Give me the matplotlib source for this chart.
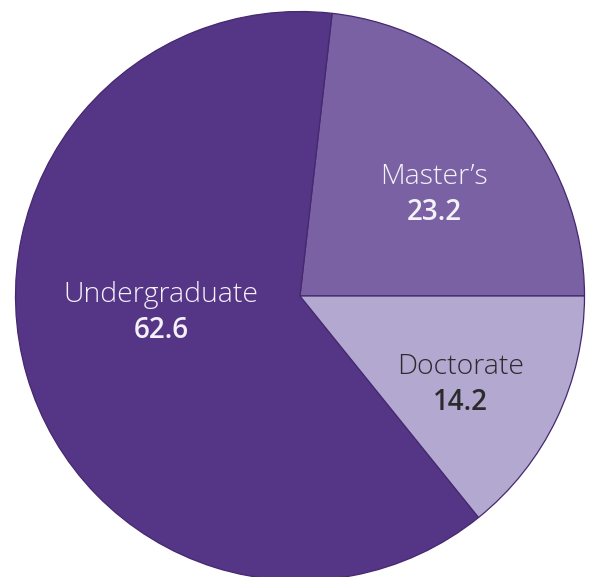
import numpy as np
import matplotlib
matplotlib.use("Agg")
import matplotlib.pyplot as plt

# data (percent), drawn counterclockwise from 3 o'clock
categories = ["Master\u2019s", "Undergraduate", "Doctorate"]
values = [23.2, 62.6, 14.2]
colors = ["#7a61a3", "#553586", "#b3a8cf"]
text_colors = ["#f4f1f8", "#f4f1f8", "#2b2b2e"]
# label anchor (radius, angle in degrees) inside each slice
label_pos = [(0.590, 37.0), (0.491, 187.0), (0.645, 331.0)]

W, H = 591, 577
R = 284.5  # pie radius in pixels
cx, cy = 300, 296  # pie centre (pixels from top-left)

fig = plt.figure(figsize=(W / 100, H / 100), dpi=100)
ax = fig.add_axes([0, 0, 1, 1])
ax.pie(values, colors=colors, startangle=0, counterclock=True,
       wedgeprops=dict(edgecolor="#45296f", linewidth=0.9))
ax.set_xlim(-cx / R, (W - cx) / R)
ax.set_ylim(-(H - cy) / R, cy / R)
ax.set_aspect("auto")
ax.axis("off")

for name, val, tc, (r, a) in zip(categories, values, text_colors, label_pos):
    x = r * np.cos(np.radians(a))
    y = r * np.sin(np.radians(a))
    ax.text(x, y + 0.062, name, ha="center", va="center", color=tc,
            fontsize=20.5, family="Open Sans", fontweight="light")
    ax.text(x, y - 0.062, f"{val:.1f}", ha="center", va="center", color=tc,
            fontsize=20, family="Open Sans", fontweight="semibold")

fig.savefig("out.png", dpi=100)
